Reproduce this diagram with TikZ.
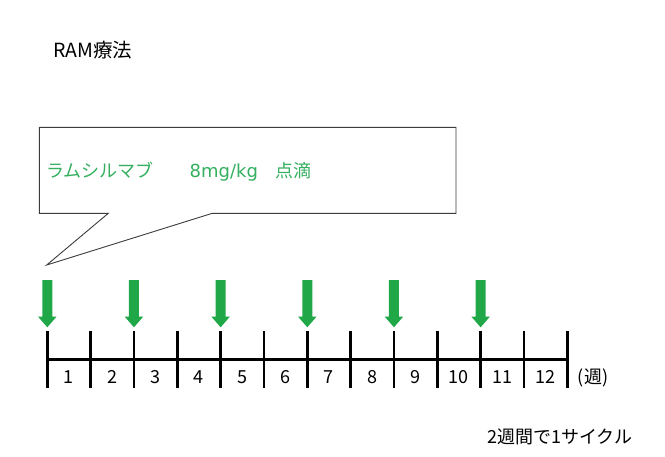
\documentclass[tikz,border=0pt]{standalone}
\usepackage{fontspec}
\setmainfont{Noto Sans CJK JP}
\newfontfamily\latfont{DejaVu Sans}
\definecolor{txtgreen}{RGB}{52,176,96}
\definecolor{arrgreen}{RGB}{32,168,72}
\definecolor{callline}{RGB}{60,60,60}
\tikzset{
  lbl/.style={inner sep=0pt, font=\fontsize{18}{21}\selectfont},
  wk/.style={inner sep=0pt, font=\fontsize{18}{21}\selectfont},
  tick/.style={line width=2.6pt, black},
  dose/.style={fill=arrgreen, draw=none},
  callout/.style={draw=callline, line width=0.9pt, fill=white, line join=miter}
}
\begin{document}
\begin{tikzpicture}[x=1pt,y=-1pt]
\useasboundingbox (0,0) rectangle (665,456);
% title
\node[lbl, anchor=west, font=\fontsize{19.5}{22}\selectfont] (title) at (53,50) {RAM療法};
% callout
\draw[callout] (39.3,127.3) -- (456,127.3) -- (456,213.3) -- (212.3,213.3)
  -- (46.7,265) -- (108.3,213.3) -- (39.3,213.3) -- cycle;
\node[lbl, anchor=west, text=txtgreen] (drug) at (46,172) {ラムシルマブ　　{\latfont 8mg/kg}　点滴};
% timeline
\def\dx{43.333}
\draw[tick] (47.3,359.3) -- (567.3,359.3);
\foreach \i in {0,...,12}{
  \draw[tick] ({47.3+\i*\dx},331) -- ({47.3+\i*\dx},388);
}
\foreach \i in {1,...,12}{
  \node[wk] (w\i) at ({47.3+(\i-0.5)*\dx},377) {\i};
}
\node[wk] (unit) at (593,378) {(週)};
% dose arrows
\foreach \i in {0,2,4,6,8,10}{
  \pgfmathsetmacro{\xc}{47.3+\i*\dx}
  \fill[dose] (\xc-5,280) -- (\xc+5,280) -- (\xc+5,316.7) -- (\xc+9.2,316.7)
    -- (\xc,327.3) -- (\xc-9.2,316.7) -- (\xc-5,316.7) -- cycle;
}
\node[wk, anchor=west] (cycle) at (487,437) {2週間で1サイクル};
\end{tikzpicture}
\end{document}
